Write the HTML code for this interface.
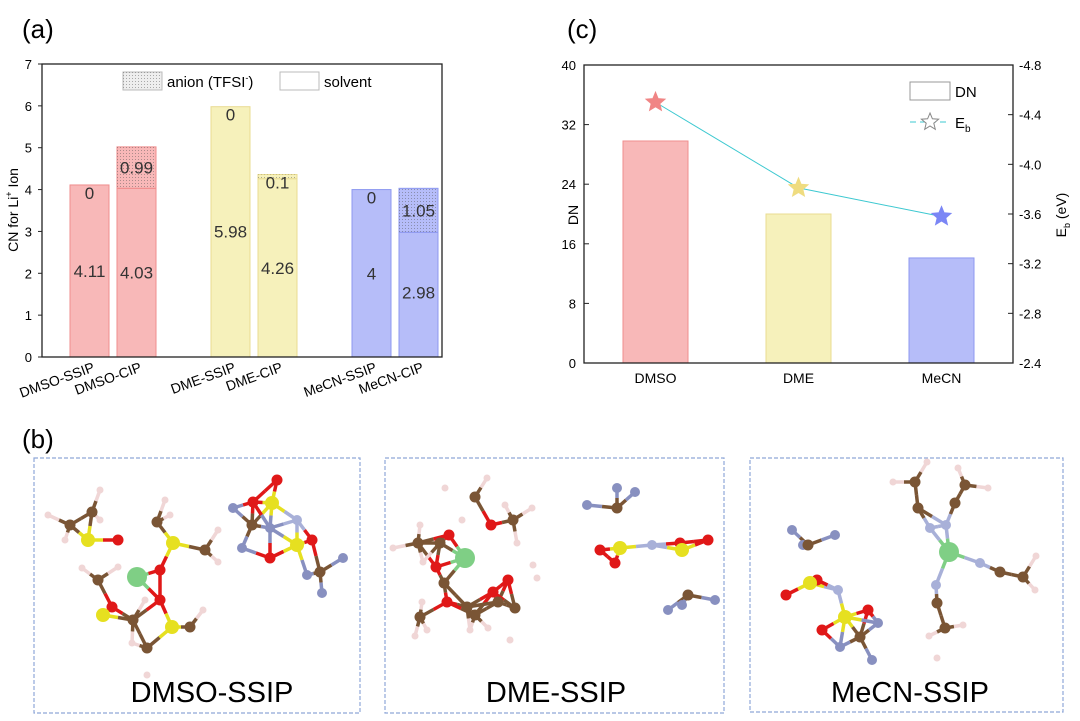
<!DOCTYPE html>
<html><head><meta charset="utf-8">
<style>
body{margin:0;background:#fff;width:1080px;height:721px;overflow:hidden;font-family:"Liberation Sans",sans-serif}
svg{position:absolute;left:0;top:0}
</style></head>
<body>
<svg id="fig" width="1080" height="721" viewBox="0 0 1080 721" xmlns="http://www.w3.org/2000/svg">
<defs>
<pattern id="dots" width="3" height="3" patternUnits="userSpaceOnUse"><rect width="3" height="3" fill="none"/><rect width="1" height="1" fill="#555" opacity="0.45"/></pattern>
</defs>
<text x="22" y="38" font-size="26">(a)</text>
<text x="567" y="38" font-size="26">(c)</text>
<text x="22" y="448" font-size="26">(b)</text>
<g id="chartA"></g>
<g id="chartC"></g>
<g id="panelB"></g>
</svg>
<script>
// ---- Chart (a) data ----
const aCategories = ["DMSO-SSIP","DMSO-CIP","DME-SSIP","DME-CIP","MeCN-SSIP","MeCN-CIP"];
const aSlots = [0,1,3,4,6,7];
const aSolvent = [4.11,4.03,5.98,4.26,4,2.98];
const aAnion = [0,0.99,0,0.1,0,1.05];
const aGroup = [0,0,1,1,2,2];
const aTicks = [0,1,2,3,4,5,6,7];
// ---- Chart (c) data ----
const cCategories = ["DMSO","DME","MeCN"];
const cDN = [29.8,20,14.1];
const cEb = [-4.50,-3.81,-3.58];
const cDNTicks = [0,8,16,24,32,40];
const cEbTicks = ["-2.4","-2.8","-3.2","-3.6","-4.0","-4.4","-4.8"];

const NS="http://www.w3.org/2000/svg";
function mk(parent,tag,attrs,text){const e=document.createElementNS(NS,tag);for(const k in attrs)e.setAttribute(k,attrs[k]);if(text!==undefined)e.textContent=text;parent.appendChild(e);return e;}
const fills=["#f8b8b8","#f6f1bb","#b6bdf9"];
const strokes=["#ef8e8e","#e9dc92","#8d98f0"];

// Chart A
(function(){
 const g=document.getElementById('chartA');
 const L=42,R=442,T=64,B=357;
 const y=v=>B-(v/7)*(B-T);
 const x=s=>L+47.5+s*47;
 const bw=39;
 aCategories.forEach((c,i)=>{
  const cx=x(aSlots[i]);
  const s=aSolvent[i],a=aAnion[i];
  const r1=mk(g,'rect',{x:cx-bw/2,y:y(s),width:bw,height:y(0)-y(s),fill:fills[aGroup[i]],stroke:strokes[aGroup[i]],'stroke-width':1});
  
  
  if(a>0){
   const r2=mk(g,'rect',{x:cx-bw/2,y:y(s+a),width:bw,height:y(s)-y(s+a),fill:fills[aGroup[i]],stroke:strokes[aGroup[i]],'stroke-width':1});
   
   
   mk(g,'rect',{x:cx-bw/2,y:y(s+a),width:bw,height:y(s)-y(s+a),fill:'url(#dots)'});
  }
  const t1=mk(g,'text',{x:cx,y:y(s/2)+6,'font-size':17,'text-anchor':'middle',fill:'#333'},String(s));
  if(i===2) t1.setAttribute('y',y(3)+6);
  if(i===5) t1.setAttribute('y',y(s/2)+4);
  
  
  const ay = a>0.3 ? y(s+a/2)+6 : y(s+a)+14;
  const t2=mk(g,'text',{x:cx,y:ay,'font-size':17,'text-anchor':'middle',fill:'#333'},String(a));
  
  
  const xl=mk(g,'text',{x:cx+6,y:B+14,'font-size':14,'text-anchor':'end',transform:`rotate(-20 ${cx+6} ${B+14})`},c);
  
  
 });
 mk(g,'rect',{x:L,y:T,width:R-L,height:B-T,fill:'none',stroke:'#222','stroke-width':1.3});
 aTicks.forEach(v=>{
  mk(g,'line',{x1:L-4,x2:L,y1:y(v),y2:y(v),stroke:'#222'});
  const t=mk(g,'text',{x:L-10,y:y(v)+5,'font-size':13,'text-anchor':'end'},String(v));
  
  
 });
 const yt=mk(g,'text',{x:18,y:210,'font-size':14,'text-anchor':'middle',transform:'rotate(-90 18 210)'});
 yt.innerHTML='CN for Li<tspan font-size="9" dy="-6">+</tspan><tspan dy="6"> Ion</tspan>';
 
 
 const lg=mk(g,'g',{});
 
 
 mk(lg,'rect',{x:123,y:72,width:39,height:18,fill:'#eee',stroke:'#bbb'});
 mk(lg,'rect',{x:123,y:72,width:39,height:18,fill:'url(#dots)'});
 const l1=mk(lg,'text',{x:167,y:87,'font-size':15});l1.innerHTML='anion (TFSI<tspan font-size="9" dy="-6">-</tspan><tspan dy="6">)</tspan>';
 mk(lg,'rect',{x:280,y:72,width:39,height:18,fill:'#fff',stroke:'#bbb'});
 mk(lg,'text',{x:324,y:87,'font-size':15},'solvent');
})();

// Chart C
function starPath(cx,cy,R,r){let p='';for(let k=0;k<10;k++){const rad=k%2?r:R;const a=-Math.PI/2+k*Math.PI/5;p+=(k?'L':'M')+(cx+rad*Math.cos(a)).toFixed(1)+' '+(cy+rad*Math.sin(a)).toFixed(1);}return p+'Z';}
(function(){
 const g=document.getElementById('chartC');
 const L=584,R=1013,T=65,B=363;
 const y=v=>B-(v/40)*(B-T);
 const y2=v=>B-((-v-2.4)/2.4)*(B-T);
 const x=i=>655.5+i*143;
 const bw=65;
 const starCols=["#f08585","#efdc80","#7b86f5"];
 cCategories.forEach((c,i)=>{
  const b=mk(g,'rect',{x:x(i)-bw/2,y:y(cDN[i]),width:bw,height:y(0)-y(cDN[i]),fill:fills[i],stroke:strokes[i]});
  
  
  const t=mk(g,'text',{x:x(i),y:B+20,'font-size':14,'text-anchor':'middle'},c);
  
  
 });
 for(let i=0;i<cEb.length-1;i++){
  const ln=mk(g,'line',{x1:x(i),y1:y2(cEb[i]),x2:x(i+1),y2:y2(cEb[i+1]),stroke:'#3cc8d0','stroke-width':1});
  
  
 }
 cEb.forEach((v,i)=>{
  const s=mk(g,'path',{d:starPath(x(i),y2(v),10,4.5),fill:starCols[i],stroke:starCols[i]});
  
  
 });
 mk(g,'rect',{x:L,y:T,width:R-L,height:B-T,fill:'none',stroke:'#222','stroke-width':1.3});
 cDNTicks.forEach(v=>{
  mk(g,'line',{x1:L,x2:L+5,y1:y(v),y2:y(v),stroke:'#222'});
  const t=mk(g,'text',{x:L-8,y:y(v)+5,'font-size':13,'text-anchor':'end'},String(v));
  
  
 });
 cEbTicks.forEach(v=>{
  const yy=y2(parseFloat(v));
  mk(g,'line',{x1:R-5,x2:R,y1:yy,y2:yy,stroke:'#222'});
  const t=mk(g,'text',{x:R+6,y:yy+5,'font-size':13},v);
  
  
 });
 const yt=mk(g,'text',{x:578,y:215,'font-size':14,'text-anchor':'middle',transform:'rotate(-90 578 215)'},'DN');
 
 
 const yt2=mk(g,'text',{x:1066,y:215,'font-size':14,'text-anchor':'middle',transform:'rotate(-90 1066 215)'});
 yt2.innerHTML='E<tspan font-size="9" dy="4">b</tspan><tspan dy="-4"> (eV)</tspan>';
 
 
 const lg=mk(g,'g',{});
 
 
 mk(lg,'rect',{x:910,y:82,width:40,height:18,fill:'#fff',stroke:'#999'});
 mk(lg,'text',{x:955,y:97,'font-size':15},'DN');
 mk(lg,'line',{x1:910,x2:950,y1:122,y2:122,stroke:'#3cc8d0','stroke-dasharray':'6 4'});
 mk(lg,'path',{d:starPath(930,122,9,4),fill:'#fff',stroke:'#888'});
 const lt=mk(lg,'text',{x:955,y:128,'font-size':15});lt.innerHTML='E<tspan font-size="10" dy="4">b</tspan>';
})();

// Panel B structures
(function(){
 const g=document.getElementById('panelB');
 const col={Li:'#7fcf85',S:'#e6e020',O:'#e01818',C:'#7a5535',H:'#f0d6d6',N:'#a8b0d8',F:'#8890c0'};
 const rad={Li:10,S:7,O:5.5,C:5.5,H:3.5,N:5,F:5};
 const boxes=[[34,458,326,255,'DMSO-SSIP',212],[385,458,339,255,'DME-SSIP',556],[750,458,313,254,'MeCN-SSIP',910]];
 const mols=[
  {Li:[[137,577]],S:[[88,540],[173,543],[103,615],[172,627],[272,503],[297,545]],O:[[118,540],[160,570],[112,607],[160,600],[277,480],[253,502],[312,540],[270,558]],
   C:[[70,525],[92,512],[157,522],[205,550],[98,580],[133,620],[190,627],[147,648],[252,525],[320,572]],
   H:[[100,490],[48,515],[165,500],[218,530],[218,562],[82,568],[118,567],[145,600],[203,610],[147,675],[132,643],[100,520],[65,540],[170,515]],
   N:[[297,520]],F:[[233,508],[270,528],[242,548],[343,558],[307,575],[322,593]]},
  {Li:[[465,558]],O:[[449,535],[491,525],[436,567],[508,580],[447,602],[493,592],[600,550],[615,563],[680,543],[708,540]],
   C:[[475,497],[513,520],[418,543],[440,543],[444,583],[467,607],[498,602],[515,608],[420,617],[475,615],[617,508],[688,595]],
   H:[[445,488],[487,478],[505,505],[532,508],[517,543],[393,548],[420,525],[423,562],[422,602],[427,630],[415,636],[470,630],[488,628],[510,640],[533,565],[537,578],[462,520]],
   S:[[620,548],[682,550]],N:[[652,545]],F:[[587,505],[617,488],[635,492],[668,610],[682,605],[715,600]]},
  {Li:[[949,552]],N:[[930,528],[946,525],[980,563],[936,585],[838,590]],
   C:[[918,508],[915,482],[955,503],[965,485],[1000,572],[1023,577],[937,603],[945,628],[808,545],[860,637]],
   H:[[927,462],[893,482],[958,468],[988,488],[1036,556],[1035,590],[929,636],[963,625],[937,658]],
   S:[[810,583],[845,617]],O:[[817,580],[786,595],[868,610],[822,630]],F:[[792,530],[835,535],[803,545],[878,623],[840,647],[872,660]]}
 ];
 boxes.forEach((b,bi)=>{
  const bg=mk(g,'g',{});
  
  
  mk(bg,'rect',{x:b[0],y:b[1],width:b[2],height:b[3],fill:'none',stroke:'#8fa8d8','stroke-dasharray':'4 2','stroke-width':1.2});
  const m=mols[bi];const atoms=[];
  for(const t in m) m[t].forEach(p=>atoms.push({t,x:p[0],y:p[1]}));
  for(let i=0;i<atoms.length;i++)for(let j=i+1;j<atoms.length;j++){
   const a=atoms[i],c=atoms[j];if(a.t==='H'&&c.t==='H')continue;if(a.t==='F'&&c.t==='F')continue;
   if((a.t==='H')!==(c.t==='H') && !(a.t==='C'||c.t==='C'))continue;
   const d=Math.hypot(a.x-c.x,a.y-c.y);
   const lim=(a.t==='Li'||c.t==='Li')?36:(a.t==='H'||c.t==='H')?26:34;
   if(d<lim){const mx=(a.x+c.x)/2,my=(a.y+c.y)/2;
    mk(bg,'line',{x1:a.x,y1:a.y,x2:mx,y2:my,stroke:col[a.t],'stroke-width':3.5});
    mk(bg,'line',{x1:mx,y1:my,x2:c.x,y2:c.y,stroke:col[c.t],'stroke-width':3.5});}
  }
  ['H','F','N','C','O','S','Li'].forEach(t=>atoms.filter(a=>a.t===t).forEach(a=>mk(bg,'circle',{cx:a.x,cy:a.y,r:rad[t],fill:col[t]})));
  const lab=mk(bg,'text',{x:b[5],y:702,'font-size':29,'text-anchor':'middle'},b[4]);
  
  
 });
})();
</script>
</body></html>
